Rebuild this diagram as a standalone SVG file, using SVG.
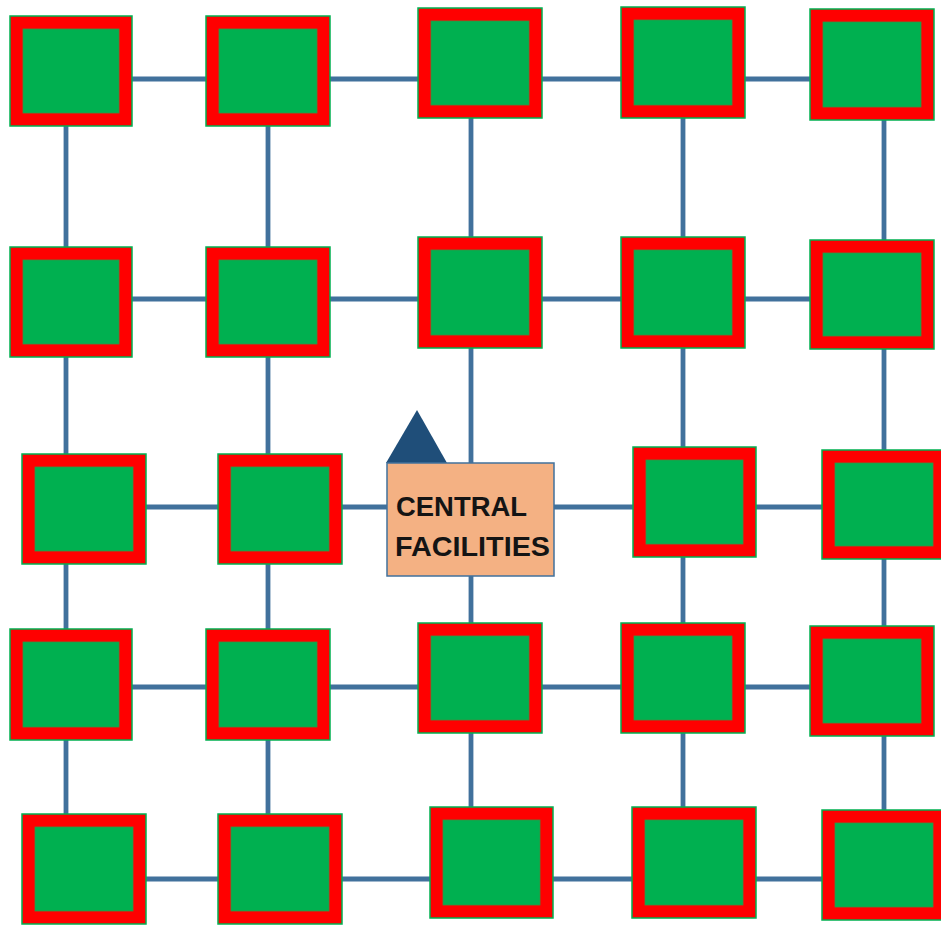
<svg xmlns="http://www.w3.org/2000/svg" width="941" height="925" viewBox="0 0 941 925">
<defs>
<style>
.out{fill:#FF0000;stroke:#00B050;stroke-width:1.5}
.in{fill:#00B050;stroke:#3E8E41;stroke-width:0.8}
.ln{stroke:#41719C;stroke-width:4.8;fill:none}
.cf{fill:#F4B183;stroke:#41719C;stroke-width:1.5}
.tx{font-family:"Liberation Sans",Arial,sans-serif;font-weight:bold;font-size:27.5px;fill:#141414}
</style>
</defs>
<rect width="941" height="925" fill="#FFFFFF"/>
<g id="connectors">
<line class="ln" x1="71" y1="79" x2="884" y2="79"/>
<line class="ln" x1="71" y1="299" x2="884" y2="299"/>
<line class="ln" x1="84" y1="507" x2="884" y2="507"/>
<line class="ln" x1="71" y1="687" x2="884" y2="687"/>
<line class="ln" x1="84" y1="879" x2="884" y2="879"/>
<line class="ln" x1="66" y1="71" x2="66" y2="869"/>
<line class="ln" x1="268" y1="71" x2="268" y2="869"/>
<line class="ln" x1="471" y1="63" x2="471" y2="862"/>
<line class="ln" x1="683" y1="63" x2="683" y2="862"/>
<line class="ln" x1="884" y1="65" x2="884" y2="865"/>
</g>
<g id="n11"><rect class="out" x="10" y="16" width="122" height="110"/><rect class="in" x="23" y="29" width="96" height="84"/></g>
<g id="n12"><rect class="out" x="206" y="16" width="124" height="110"/><rect class="in" x="219" y="29" width="98" height="84"/></g>
<g id="n13"><rect class="out" x="418" y="8" width="124" height="110"/><rect class="in" x="431" y="21" width="98" height="84"/></g>
<g id="n14"><rect class="out" x="621" y="7" width="124" height="111"/><rect class="in" x="634" y="20" width="98" height="85"/></g>
<g id="n15"><rect class="out" x="810" y="9" width="124" height="111"/><rect class="in" x="823" y="22" width="98" height="85"/></g>
<g id="n21"><rect class="out" x="10" y="247" width="122" height="110"/><rect class="in" x="23" y="260" width="96" height="84"/></g>
<g id="n22"><rect class="out" x="206" y="247" width="124" height="110"/><rect class="in" x="219" y="260" width="98" height="84"/></g>
<g id="n23"><rect class="out" x="418" y="237" width="124" height="111"/><rect class="in" x="431" y="250" width="98" height="85"/></g>
<g id="n24"><rect class="out" x="621" y="237" width="124" height="111"/><rect class="in" x="634" y="250" width="98" height="85"/></g>
<g id="n25"><rect class="out" x="810" y="240" width="124" height="109"/><rect class="in" x="823" y="253" width="98" height="83"/></g>
<g id="n31"><rect class="out" x="22" y="454" width="124" height="110"/><rect class="in" x="35" y="467" width="98" height="84"/></g>
<g id="n32"><rect class="out" x="218" y="454" width="124" height="110"/><rect class="in" x="231" y="467" width="98" height="84"/></g>
<g id="central">
<polygon points="417,410 386,463 447,463" fill="#1F4E79"/>
<rect class="cf" x="387" y="463" width="167" height="113"/>
<text class="tx" x="396" y="516" textLength="131" lengthAdjust="spacingAndGlyphs">CENTRAL</text>
<text class="tx" x="395" y="556" textLength="155" lengthAdjust="spacingAndGlyphs">FACILITIES</text>
</g>
<g id="n34"><rect class="out" x="633" y="447" width="123" height="110"/><rect class="in" x="646" y="460" width="97" height="84"/></g>
<g id="n35"><rect class="out" x="822" y="450" width="124" height="109"/><rect class="in" x="835" y="463" width="98" height="83"/></g>
<g id="n41"><rect class="out" x="10" y="629" width="122" height="111"/><rect class="in" x="23" y="642" width="96" height="85"/></g>
<g id="n42"><rect class="out" x="206" y="629" width="124" height="111"/><rect class="in" x="219" y="642" width="98" height="85"/></g>
<g id="n43"><rect class="out" x="418" y="623" width="124" height="110"/><rect class="in" x="431" y="636" width="98" height="84"/></g>
<g id="n44"><rect class="out" x="621" y="623" width="124" height="110"/><rect class="in" x="634" y="636" width="98" height="84"/></g>
<g id="n45"><rect class="out" x="810" y="626" width="124" height="110"/><rect class="in" x="823" y="639" width="98" height="84"/></g>
<g id="n51"><rect class="out" x="22" y="814" width="124" height="110"/><rect class="in" x="35" y="827" width="98" height="84"/></g>
<g id="n52"><rect class="out" x="218" y="814" width="124" height="110"/><rect class="in" x="231" y="827" width="98" height="84"/></g>
<g id="n53"><rect class="out" x="430" y="807" width="123" height="111"/><rect class="in" x="443" y="820" width="97" height="85"/></g>
<g id="n54"><rect class="out" x="632" y="807" width="124" height="111"/><rect class="in" x="645" y="820" width="98" height="85"/></g>
<g id="n55"><rect class="out" x="822" y="810" width="124" height="110"/><rect class="in" x="835" y="823" width="98" height="84"/></g>
</svg>
